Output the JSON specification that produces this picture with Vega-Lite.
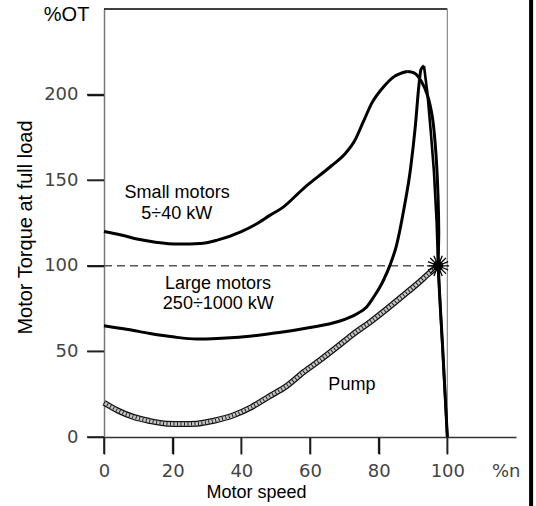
{
  "$schema": "https://vega.github.io/schema/vega-lite/v6.json",
  "width": 412,
  "height": 428,
  "autosize": "none",
  "padding": {"left": 104, "top": 9, "right": 20, "bottom": 69},
  "background": "white",
  "config": {
    "view": {"stroke": null},
    "axis": {"ticks": true, "tickSize": 17, "tickColor": "#000", "tickWidth": 1.5, "grid": false}
  },
  "encoding": {
    "x": {
      "field": "x", "type": "quantitative",
      "scale": {"domain": [0, 120], "nice": false, "zero": false},
      "axis": {
        "values": [0, 20, 40, 60, 80, 100, 117],
        "labelExpr": "datum.value == 117 ? '%n' : datum.label",
        "tickOpacity": {"condition": {"test": "datum.value == 117", "value": 0}, "value": 1},
        "domainColor": "#333", "domainWidth": 1.5,
        "labelFont": "DejaVu Sans", "labelFontSize": 18, "labelColor": "#444",
        "labelPadding": 8, "labelFlush": false, "labelOverlap": false,
        "title": "Motor speed", "titleFont": "Liberation Sans", "titleFontSize": 18,
        "titleFontWeight": "normal", "titleColor": "#000",
        "titleX": 152, "titleY": 60, "titleBaseline": "alphabetic", "titleAlign": "center"
      }
    },
    "y": {
      "field": "y", "type": "quantitative",
      "scale": {"domain": [0, 250], "nice": false, "zero": false},
      "axis": {
        "values": [0, 50, 100, 150, 200],
        "domainColor": "#777", "domainWidth": 1.5,
        "labelFont": "DejaVu Sans", "labelFontSize": 18, "labelColor": "#444",
        "labelPadding": 9,
        "title": "Motor Torque at full load", "titleFont": "Liberation Sans", "titleFontSize": 20,
        "titleFontWeight": "normal", "titleColor": "#000",
        "titleX": -79, "titleY": 218, "titleAngle": -90, "titleBaseline": "middle", "titleAlign": "center"
      }
    }
  },
  "layer": [
    {
      "data": {"values": [
        {"x": 0, "y": 0, "y2": -9.9}, {"x": 20, "y": 0, "y2": -9.9}, {"x": 40, "y": 0, "y2": -9.9},
        {"x": 60, "y": 0, "y2": -9.9}, {"x": 80, "y": 0, "y2": -9.9}, {"x": 100, "y": 0, "y2": -9.9}
      ]},
      "mark": {"type": "rule", "color": "#222", "strokeWidth": 1.6, "clip": false},
      "encoding": {"y2": {"field": "y2"}}
    },
    {
      "data": {"values": [
        {"y": 0, "x": 0, "x2": -4.95}, {"y": 50, "x": 0, "x2": -4.95}, {"y": 100, "x": 0, "x2": -4.95},
        {"y": 150, "x": 0, "x2": -4.95}, {"y": 200, "x": 0, "x2": -4.95}
      ]},
      "mark": {"type": "rule", "color": "#222", "strokeWidth": 1.6, "clip": false},
      "encoding": {"x2": {"field": "x2"}}
    },
    {
      "data": {"values": [{"x": 0, "x2": 100, "y": 250}]},
      "mark": {"type": "rule", "color": "#000", "strokeWidth": 1.5},
      "encoding": {"x2": {"field": "x2"}}
    },
    {
      "data": {"values": [{"x": 100, "y": 0, "y2": 250}]},
      "mark": {"type": "rule", "color": "#888", "strokeWidth": 1.2},
      "encoding": {"y2": {"field": "y2"}}
    },
    {
      "data": {"values": [{"x": 124.4, "y": -40.3, "y2": 255.3}]},
      "mark": {"type": "rule", "color": "#000", "strokeWidth": 4},
      "encoding": {"y2": {"field": "y2"}}
    },
    {
      "data": {"values": [{"x": 0, "x2": 97.3, "y": 100}]},
      "mark": {"type": "rule", "color": "#555", "strokeWidth": 1.5, "strokeDash": [8, 5]},
      "encoding": {"x2": {"field": "x2"}}
    },
    {
      "data": {"values": [
        {"series": "SmallA", "i": 1, "x": 0, "y": 120}, {"series": "SmallA", "i": 2, "x": 5, "y": 118}, {"series": "SmallA", "i": 3, "x": 10, "y": 115.5},
        {"series": "SmallA", "i": 4, "x": 15, "y": 113.8}, {"series": "SmallA", "i": 5, "x": 22, "y": 112.7}, {"series": "SmallA", "i": 6, "x": 28, "y": 113},
        {"series": "SmallA", "i": 7, "x": 33, "y": 115}, {"series": "SmallA", "i": 8, "x": 40, "y": 120},
        {"series": "SmallA", "i": 9, "x": 44, "y": 124}, {"series": "SmallA", "i": 10, "x": 48.4, "y": 129.6}, {"series": "SmallA", "i": 11, "x": 52, "y": 134},
        {"series": "SmallA", "i": 12, "x": 58, "y": 145}, {"series": "SmallA", "i": 13, "x": 66, "y": 158}, {"series": "SmallA", "i": 14, "x": 70, "y": 165},
        {"series": "SmallA", "i": 15, "x": 73, "y": 173}, {"series": "SmallA", "i": 16, "x": 75.5, "y": 184}, {"series": "SmallA", "i": 17, "x": 78, "y": 195},
        {"series": "SmallA", "i": 18, "x": 81.5, "y": 204.7}, {"series": "SmallA", "i": 19, "x": 84.5, "y": 210.5}, {"series": "SmallA", "i": 20, "x": 88.3, "y": 213.5},
        {"series": "LargeA", "i": 1, "x": 0, "y": 65}, {"series": "LargeA", "i": 2, "x": 7, "y": 62.8}, {"series": "LargeA", "i": 3, "x": 13.4, "y": 60.5},
        {"series": "LargeA", "i": 4, "x": 20, "y": 58.5}, {"series": "LargeA", "i": 5, "x": 27, "y": 57.2}, {"series": "LargeA", "i": 6, "x": 33, "y": 57.5},
        {"series": "LargeA", "i": 7, "x": 38, "y": 58.1}, {"series": "LargeA", "i": 8, "x": 45, "y": 59.5}, {"series": "LargeA", "i": 9, "x": 51, "y": 61},
        {"series": "LargeA", "i": 10, "x": 60, "y": 64}, {"series": "LargeA", "i": 11, "x": 68, "y": 67.3}, {"series": "LargeA", "i": 12, "x": 73.7, "y": 72},
        {"series": "LargeA", "i": 13, "x": 76.5, "y": 76}, {"series": "LargeA", "i": 14, "x": 78.6, "y": 81.9}, {"series": "LargeA", "i": 15, "x": 80.2, "y": 87},
        {"series": "LargeA", "i": 16, "x": 81.5, "y": 92}, {"series": "LargeA", "i": 17, "x": 83.3, "y": 100.4}, {"series": "LargeA", "i": 18, "x": 85.2, "y": 112},
        {"series": "LargeA", "i": 19, "x": 87.3, "y": 132.6}, {"series": "LargeA", "i": 20, "x": 89.3, "y": 157}, {"series": "LargeA", "i": 21, "x": 90.7, "y": 182},
        {"series": "LargeA", "i": 22, "x": 91.7, "y": 205}, {"series": "LargeA", "i": 23, "x": 92.3, "y": 214.5}, {"series": "LargeA", "i": 24, "x": 93.2, "y": 216.8}
      ]},
      "mark": {"type": "line", "color": "#000", "strokeWidth": 3, "strokeJoin": "round", "interpolate": "monotone"},
      "encoding": {"detail": {"field": "series"}, "order": {"field": "i"}}
    },
    {
      "data": {"values": [
        {"i": 21, "x": 88.3, "y": 213.5}, {"i": 22, "x": 90.5, "y": 212.5}, {"i": 23, "x": 92.5, "y": 207.5},
        {"i": 24, "x": 94.3, "y": 199}, {"i": 25, "x": 95.7, "y": 186}, {"i": 26, "x": 96.7, "y": 165},
        {"i": 27, "x": 97.3, "y": 140}, {"i": 28, "x": 97.5, "y": 120}, {"i": 29, "x": 97.4, "y": 100},
        {"i": 30, "x": 98.7, "y": 50}, {"i": 31, "x": 100, "y": 0}
      ]},
      "mark": {"type": "line", "color": "#000", "strokeWidth": 3, "strokeJoin": "round", "interpolate": "catmull-rom"},
      "encoding": {"order": {"field": "i"}}
    },
    {
      "data": {"values": [
        {"i": 25, "x": 93.2, "y": 216.8}, {"i": 26, "x": 94.2, "y": 200.8}, {"i": 27, "x": 95.2, "y": 178},
        {"i": 28, "x": 96.1, "y": 155}, {"i": 29, "x": 96.9, "y": 125}, {"i": 30, "x": 97.3, "y": 100},
        {"i": 31, "x": 100, "y": 0}
      ]},
      "mark": {"type": "line", "color": "#000", "strokeWidth": 2.6, "strokeJoin": "miter"},
      "encoding": {"order": {"field": "i"}}
    },
    {
      "data": {"values": [
        {"x": 0, "y": 20}, {"x": 4, "y": 15.5}, {"x": 8.6, "y": 11.7}, {"x": 13, "y": 9.5}, {"x": 18.3, "y": 7.8},
        {"x": 23, "y": 7.6}, {"x": 27, "y": 7.8}, {"x": 32, "y": 9.5}, {"x": 37.7, "y": 12.7}, {"x": 43, "y": 17.5},
        {"x": 48.4, "y": 24}, {"x": 53, "y": 29.5}, {"x": 58.2, "y": 38}, {"x": 63, "y": 45}, {"x": 67.9, "y": 52.6},
        {"x": 72.5, "y": 60}, {"x": 77.6, "y": 67.3}, {"x": 82.5, "y": 75}, {"x": 87.3, "y": 82.9}, {"x": 91, "y": 89},
        {"x": 94.7, "y": 95.6}, {"x": 97.3, "y": 100}
      ]},
      "layer": [
        {"mark": {"type": "line", "color": "#111", "strokeWidth": 6, "interpolate": "monotone"}, "encoding": {}},
        {"mark": {"type": "line", "color": "#c4c4c4", "strokeWidth": 3.5, "interpolate": "monotone"}, "encoding": {}},
        {"mark": {"type": "line", "color": "#222", "strokeWidth": 3.5, "strokeDash": [1, 2.5], "interpolate": "monotone"}, "encoding": {}}
      ]
    },
    {
      "data": {"values": [{"x": 97.3, "y": 100}]},
      "layer": [
        {"mark": {"type": "point", "shape": "M-1,0L1,0M0,-1L0,1M-0.71,-0.71L0.71,0.71M-0.71,0.71L0.71,-0.71M-0.92,-0.38L0.92,0.38M-0.92,0.38L0.92,-0.38M-0.38,-0.92L0.38,0.92M-0.38,0.92L0.38,-0.92", "size": 484, "filled": false, "color": "#000", "strokeWidth": 1.3, "opacity": 1}},
        {"mark": {"type": "point", "shape": "circle", "size": 100, "filled": true, "color": "#000", "opacity": 1}}
      ]
    },
    {
      "data": {"values": [
        {"x": 21.3, "y": 142.5, "label": "Small motors"},
        {"x": 21.2, "y": 130, "label": "5÷40 kW"},
        {"x": 33.2, "y": 89.4, "label": "Large motors"},
        {"x": 33.3, "y": 77.7, "label": "250÷1000 kW"},
        {"x": 72.2, "y": 30.1, "label": "Pump"}
      ]},
      "mark": {"type": "text", "font": "Liberation Sans", "fontSize": 18, "color": "#000", "align": "center", "baseline": "middle"},
      "encoding": {"text": {"field": "label"}}
    },
    {
      "data": {"values": [{"x": -10.9, "y": 246.5, "label": "%OT"}]},
      "mark": {"type": "text", "font": "Liberation Sans", "fontSize": 20, "color": "#000", "align": "center", "baseline": "middle"},
      "encoding": {"text": {"field": "label"}}
    }
  ]
}
